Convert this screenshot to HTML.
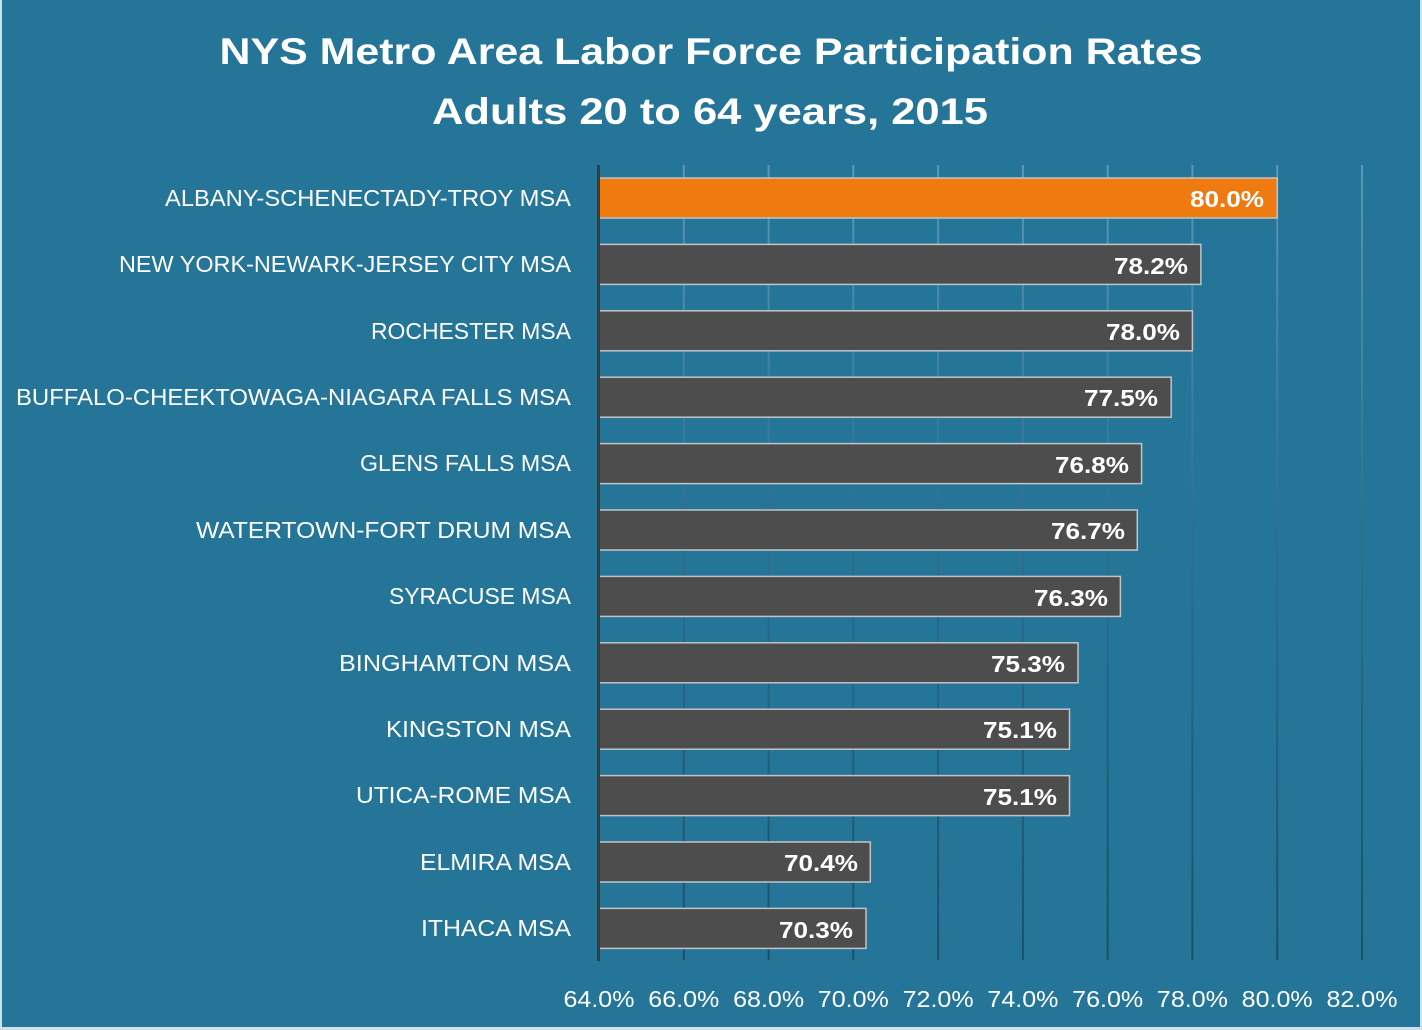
<!DOCTYPE html>
<html><head><meta charset="utf-8"><style>
html,body{margin:0;padding:0;background:#cfe0ea}
svg{display:block}
text{font-family:"Liberation Sans",sans-serif;fill:#fff}
</style></head><body>
<svg width="1422" height="1030" viewBox="0 0 1422 1030" xmlns="http://www.w3.org/2000/svg">
<defs><linearGradient id="g" x1="0" y1="165" x2="0" y2="960" gradientUnits="userSpaceOnUse">
<stop offset="0" stop-color="#5e98b3"/><stop offset="0.45" stop-color="#2f6f8e"/><stop offset="1" stop-color="#1b4f68"/></linearGradient></defs>
<rect x="0" y="0" width="1422" height="1030" fill="#cfe0ea"/>
<rect x="2" y="0" width="1418" height="1027" fill="#247598"/>
<text x="711" y="64" text-anchor="middle" font-size="37" font-weight="bold" textLength="983" lengthAdjust="spacingAndGlyphs">NYS Metro Area Labor Force Participation Rates</text>
<text x="710" y="124" text-anchor="middle" font-size="37" font-weight="bold" textLength="556" lengthAdjust="spacingAndGlyphs">Adults 20 to 64 years, 2015</text>
<g stroke="url(#g)" stroke-width="2">
<line x1="683.8" y1="165" x2="683.8" y2="960"/><line x1="768.6" y1="165" x2="768.6" y2="960"/><line x1="853.3" y1="165" x2="853.3" y2="960"/><line x1="938.1" y1="165" x2="938.1" y2="960"/><line x1="1022.9" y1="165" x2="1022.9" y2="960"/><line x1="1107.7" y1="165" x2="1107.7" y2="960"/><line x1="1192.4" y1="165" x2="1192.4" y2="960"/><line x1="1277.2" y1="165" x2="1277.2" y2="960"/><line x1="1362" y1="165" x2="1362" y2="960"/>
</g>
<g stroke="#c0c4c8" stroke-width="1.5">
<rect x="599" y="178" width="678.2" height="40" fill="#ee7a10"/>
<rect x="599" y="244.4" width="601.9" height="40" fill="#4d4d4d"/>
<rect x="599" y="310.8" width="593.4" height="40" fill="#4d4d4d"/>
<rect x="599" y="377.2" width="572.2" height="40" fill="#4d4d4d"/>
<rect x="599" y="443.6" width="542.6" height="40" fill="#4d4d4d"/>
<rect x="599" y="510" width="538.3" height="40" fill="#4d4d4d"/>
<rect x="599" y="576.4" width="521.4" height="40" fill="#4d4d4d"/>
<rect x="599" y="642.8" width="479" height="40" fill="#4d4d4d"/>
<rect x="599" y="709.2" width="470.5" height="40" fill="#4d4d4d"/>
<rect x="599" y="775.6" width="470.5" height="40" fill="#4d4d4d"/>
<rect x="599" y="842" width="271.3" height="40" fill="#4d4d4d"/>
<rect x="599" y="908.4" width="267" height="40" fill="#4d4d4d"/>
</g>
<line x1="598.5" y1="165" x2="598.5" y2="961" stroke="#3a3a3a" stroke-width="3"/>
<g font-size="23" text-anchor="end">
<text x="571" y="206" textLength="406" lengthAdjust="spacingAndGlyphs">ALBANY-SCHENECTADY-TROY MSA</text>
<text x="571" y="272" textLength="452" lengthAdjust="spacingAndGlyphs">NEW YORK-NEWARK-JERSEY CITY MSA</text>
<text x="571" y="339" textLength="200" lengthAdjust="spacingAndGlyphs">ROCHESTER MSA</text>
<text x="571" y="405" textLength="555" lengthAdjust="spacingAndGlyphs">BUFFALO-CHEEKTOWAGA-NIAGARA FALLS MSA</text>
<text x="571" y="471" textLength="211" lengthAdjust="spacingAndGlyphs">GLENS FALLS MSA</text>
<text x="571" y="538" textLength="375" lengthAdjust="spacingAndGlyphs">WATERTOWN-FORT DRUM MSA</text>
<text x="571" y="604" textLength="182" lengthAdjust="spacingAndGlyphs">SYRACUSE MSA</text>
<text x="571" y="671" textLength="232" lengthAdjust="spacingAndGlyphs">BINGHAMTON MSA</text>
<text x="571" y="737" textLength="185" lengthAdjust="spacingAndGlyphs">KINGSTON MSA</text>
<text x="571" y="803" textLength="215" lengthAdjust="spacingAndGlyphs">UTICA-ROME MSA</text>
<text x="571" y="870" textLength="151" lengthAdjust="spacingAndGlyphs">ELMIRA MSA</text>
<text x="571" y="936" textLength="150" lengthAdjust="spacingAndGlyphs">ITHACA MSA</text>
</g>
<g font-size="23" font-weight="bold" text-anchor="end">
<text x="1264" y="207" textLength="74" lengthAdjust="spacingAndGlyphs">80.0%</text>
<text x="1188" y="274" textLength="74" lengthAdjust="spacingAndGlyphs">78.2%</text>
<text x="1180" y="340" textLength="74" lengthAdjust="spacingAndGlyphs">78.0%</text>
<text x="1158" y="406" textLength="74" lengthAdjust="spacingAndGlyphs">77.5%</text>
<text x="1129" y="473" textLength="74" lengthAdjust="spacingAndGlyphs">76.8%</text>
<text x="1125" y="539" textLength="74" lengthAdjust="spacingAndGlyphs">76.7%</text>
<text x="1108" y="606" textLength="74" lengthAdjust="spacingAndGlyphs">76.3%</text>
<text x="1065" y="672" textLength="74" lengthAdjust="spacingAndGlyphs">75.3%</text>
<text x="1057" y="738" textLength="74" lengthAdjust="spacingAndGlyphs">75.1%</text>
<text x="1057" y="805" textLength="74" lengthAdjust="spacingAndGlyphs">75.1%</text>
<text x="858" y="871" textLength="74" lengthAdjust="spacingAndGlyphs">70.4%</text>
<text x="853" y="938" textLength="74" lengthAdjust="spacingAndGlyphs">70.3%</text>
</g>
<g font-size="23" text-anchor="middle">
<text x="599" y="1007" textLength="71" lengthAdjust="spacingAndGlyphs">64.0%</text>
<text x="683.8" y="1007" textLength="71" lengthAdjust="spacingAndGlyphs">66.0%</text>
<text x="768.6" y="1007" textLength="71" lengthAdjust="spacingAndGlyphs">68.0%</text>
<text x="853.3" y="1007" textLength="71" lengthAdjust="spacingAndGlyphs">70.0%</text>
<text x="938.1" y="1007" textLength="71" lengthAdjust="spacingAndGlyphs">72.0%</text>
<text x="1022.9" y="1007" textLength="71" lengthAdjust="spacingAndGlyphs">74.0%</text>
<text x="1107.7" y="1007" textLength="71" lengthAdjust="spacingAndGlyphs">76.0%</text>
<text x="1192.4" y="1007" textLength="71" lengthAdjust="spacingAndGlyphs">78.0%</text>
<text x="1277.2" y="1007" textLength="71" lengthAdjust="spacingAndGlyphs">80.0%</text>
<text x="1362" y="1007" textLength="71" lengthAdjust="spacingAndGlyphs">82.0%</text>
</g>
</svg>
</body></html>
